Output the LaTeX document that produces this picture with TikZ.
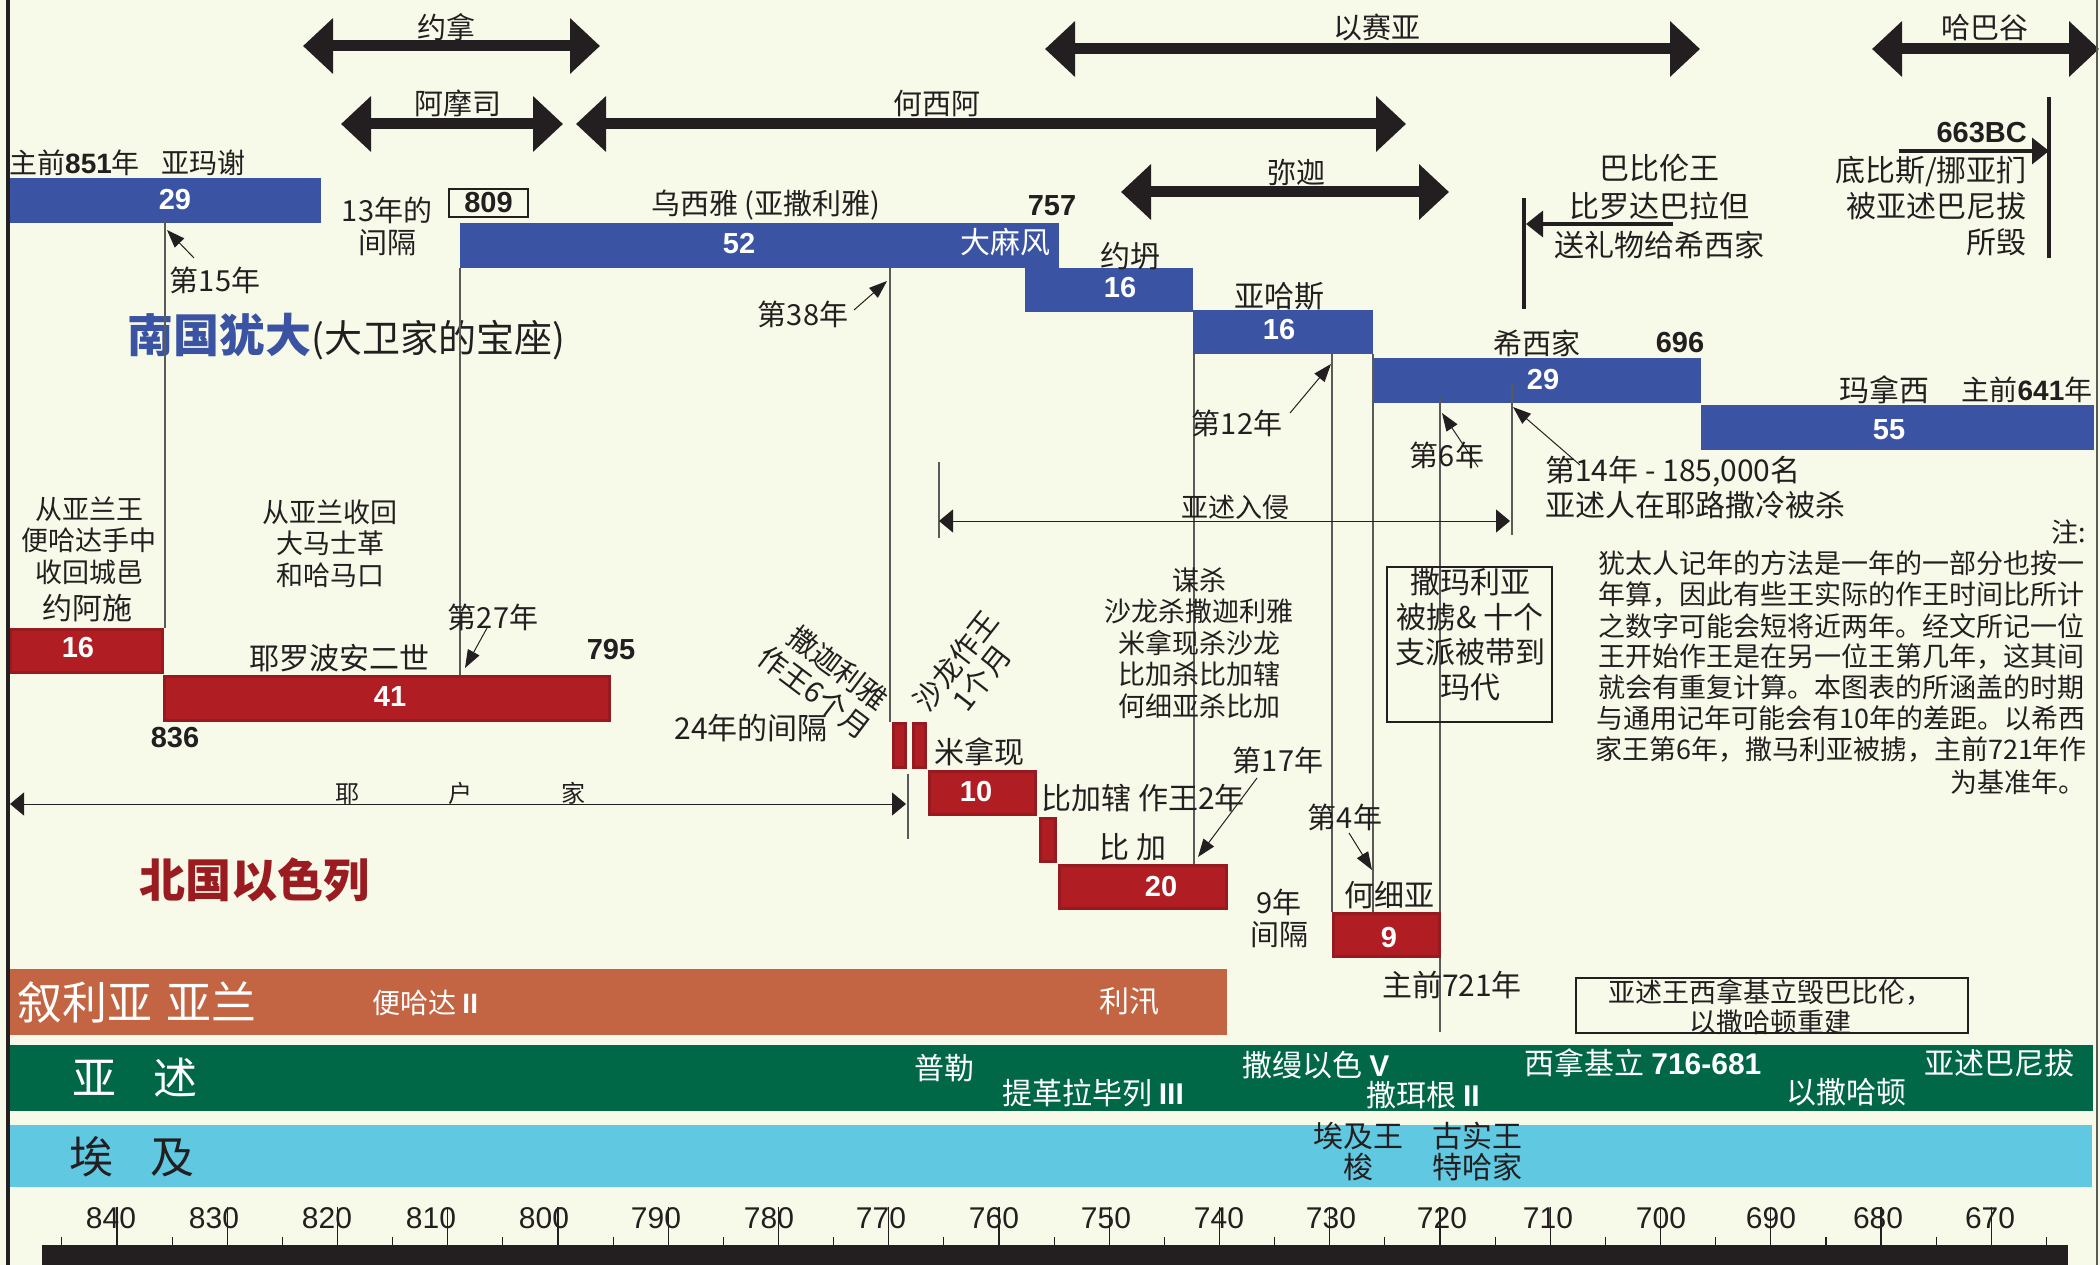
\documentclass[tikz,border=0pt]{standalone}
\usepackage{fontspec}
\setmainfont{Liberation Sans}
\newfontfamily\cjk{Noto Sans CJK SC}
\usetikzlibrary{arrows.meta}
\definecolor{bgc}{HTML}{F8FAE9}
\definecolor{ink}{HTML}{231F20}
\definecolor{judah}{HTML}{3A53A3}
\definecolor{israel}{HTML}{B01E24}
\definecolor{israeldk}{HTML}{961A1F}
\definecolor{israelT}{HTML}{9A1B20}
\definecolor{syria}{HTML}{C36442}
\definecolor{assyria}{HTML}{006846}
\definecolor{egypt}{HTML}{60C9E1}
\definecolor{lgray}{HTML}{5A5A5A}
\newcommand\setfs[2]{\fontsize{#1pt}{#2pt}\selectfont}
\newcommand\bnr[1]{{\rmfamily\bfseries #1}}
\begin{document}
\begin{tikzpicture}[x=1pt,y=-1pt,
 lbl/.style={font={\cjk\setfs{29}{32}}, text=ink, inner sep=0pt, align=center},
 wl/.style={lbl, text=white},
 bnum/.style={font={\rmfamily\bfseries\setfs{29}{32}}, text=white, inner sep=0pt},
 ynum/.style={font={\rmfamily\bfseries\setfs{29}{32}}, text=ink, inner sep=0pt},
 barbox/.style 2 args={minimum width=#1pt, minimum height=#2pt, anchor=north west, inner sep=0pt, outer sep=0pt},
 jbar/.style={fill=judah},
 ibar/.style={fill=israel, draw=israeldk, line width=3pt},
 vline/.style={draw=lgray, line width=1.3pt},
 ptr/.style={draw=ink, line width=1pt, -{Triangle[length=18pt,width=13pt]}},
 big/.style={draw=ink, line width=11pt, {Triangle[length=30pt,width=54pt]}-{Triangle[length=30pt,width=54pt]}},
 thinarr/.style={draw=ink, line width=1pt, {Triangle[length=14pt,width=23pt]}-{Triangle[length=14pt,width=23pt]}},
 heavy/.style={draw=ink, line width=3.5pt},
 heavyarr/.style={heavy, -{Triangle[length=17pt,width=26pt]}},
 ticklbl/.style={font={\rmfamily\setfs{30}{32}}, text=ink, inner sep=0pt},
]
\useasboundingbox (0,0) rectangle (2100,1265);
\fill[bgc] (0,0) rectangle (2100,1265);

% ---------- prophets ----------
\coordinate (jonL) at (303,46);  \coordinate (jonR) at (600,46);
\coordinate (amoL) at (341,124); \coordinate (amoR) at (563,124);
\coordinate (hosL) at (576,124); \coordinate (hosR) at (1406,124);
\coordinate (isaL) at (1045,49); \coordinate (isaR) at (1700,49);
\coordinate (habL) at (1872,49); \coordinate (habR) at (2099,49);
\coordinate (micL) at (1121,192); \coordinate (micR) at (1449,192);
\draw[big] (jonL) -- (jonR);
\draw[big] (amoL) -- (amoR);
\draw[big] (hosL) -- (hosR);
\draw[big] (isaL) -- (isaR);
\draw[big] (habL) -- (habR);
\draw[big] (micL) -- (micR);
\node[lbl] (jonah) at (446,27) {约拿};
\node[lbl] (amos) at (458,103) {阿摩司};
\node[lbl] (hosea) at (937,103) {何西阿};
\node[lbl] (isaiah) at (1377,27) {以赛亚};
\node[lbl] (habakkuk) at (1985,28) {哈巴谷};
\node[lbl] (micah) at (1296,172) {弥迦};

% ---------- Judah bars ----------
\node[jbar, barbox={312}{45}] (amaziah) at (9,178) {};
\node[jbar, barbox={599}{45}] (uzziah) at (460,223) {};
\node[jbar, barbox={168}{44}] (jotham) at (1025,268) {};
\node[jbar, barbox={180}{44}] (ahaz) at (1193,310) {};
\node[jbar, barbox={328}{45}] (hezekiah) at (1373,358) {};
\node[jbar, barbox={393}{45}] (manasseh) at (1701,405) {};

\node[bnum] (n29a) at (175,200) {29};
\node[bnum] (n52) at (739,244) {52};
\node[wl, font={\cjk\setfs{30}{32}}] (leprosy) at (1005,242) {大麻风};
\node[bnum] (n16a) at (1120,288) {16};
\node[bnum] (n16b) at (1279,330) {16};
\node[bnum] (n29b) at (1543,380) {29};
\node[bnum] (n55) at (1889,430) {55};

\node[lbl, anchor=west, font={\cjk\setfs{28}{32}}] (amazlbl) at (9,163) {主前\bnr{851}年\hspace{22pt}亚玛谢};
\node[lbl] (gap13) at (387,226) {13年的\\间隔};
\node[ynum, draw=ink, line width=1.2pt, minimum width=79pt, minimum height=28pt] (b809) at (488.5,203) {809};
\node[lbl] (uzzlbl) at (766,205) {乌西雅 (亚撒利雅)};
\node[ynum] (y757) at (1052,206) {757};
\node[lbl, font={\cjk\setfs{30}{32}}] (jothlbl) at (1130,256) {约坍};
\node[lbl, font={\cjk\setfs{30}{32}}] (ahazlbl) at (1279,296) {亚哈斯};
\node[lbl] (hezlbl) at (1537,343) {希西家};
\node[ynum] (y696) at (1680,343) {696};
\node[lbl, font={\cjk\setfs{30}{32}}] (manlbl) at (1884,390) {玛拿西};
\node[lbl, font={\cjk\setfs{28}{32}}] (y641) at (2027,390) {主前\bnr{641}年};

\node[lbl, anchor=west, font={\cjk\setfs{38}{40}}] (judahtitle) at (127,337) {{\color{judah}\setfs{46}{48}\bfseries 南国犹大}(大卫家的宝座)};

% ---------- Babylon / Thebes ----------
\coordinate (babTop) at (1524,198); \coordinate (babBot) at (1524,309);
\draw[heavy] (babTop) -- (babBot);
\coordinate (babS) at (1673,224); \coordinate (babT) at (1526,224);
\draw[heavyarr] (babS) -- (babT);
\node[lbl, font={\cjk\setfs{30}{38.5}}] (babtxt) at (1659,206.5) {巴比伦王\\比罗达巴拉但\\送礼物给希西家};
\coordinate (thbTop) at (2049,97); \coordinate (thbBot) at (2049,258);
\draw[heavy] (thbTop) -- (thbBot);
\coordinate (thbS) at (1899,151); \coordinate (thbT) at (2049,151);
\draw[heavyarr] (thbS) -- (thbT);
\node[ynum, anchor=east] (y663) at (2027,133) {663BC};
\node[lbl, align=right, anchor=east, font={\cjk\setfs{30}{36}}] (thbtxt) at (2027,206) {底比斯/挪亚扪\\被亚述巴尼拔\\所毁};

% ---------- vertical guide lines ----------
\coordinate (v1a) at (165,220);  \coordinate (v1b) at (165,628);
\coordinate (v2a) at (460,268);  \coordinate (v2b) at (460,675);
\coordinate (v3a) at (890,268);  \coordinate (v3b) at (890,722);
\coordinate (v4a) at (1194,354); \coordinate (v4b) at (1194,864);
\coordinate (v5a) at (1332,354); \coordinate (v5b) at (1332,912);
\coordinate (v6a) at (1373,354); \coordinate (v6b) at (1373,916);
\coordinate (v7a) at (1440,398); \coordinate (v7b) at (1440,1032);
\coordinate (v8a) at (1512,383); \coordinate (v8b) at (1512,535);
\coordinate (v9a) at (908,774);  \coordinate (v9b) at (908,839);
\coordinate (v10a) at (939,462); \coordinate (v10b) at (939,538);
\foreach \a/\b in {v1a/v1b,v2a/v2b,v3a/v3b,v4a/v4b,v5a/v5b,v6a/v6b,v7a/v7b,v8a/v8b,v9a/v9b,v10a/v10b}
  \draw[vline] (\a) -- (\b);

% ---------- pointer arrows ----------
\coordinate (p15s) at (194,258);  \coordinate (p15t) at (167,230);
\coordinate (p27s) at (487,628);  \coordinate (p27t) at (465,668);
\coordinate (p38s) at (854,310);  \coordinate (p38t) at (887,281);
\coordinate (p12s) at (1290,413); \coordinate (p12t) at (1331,364);
\coordinate (p6s) at (1478,467);  \coordinate (p6t) at (1442,413);
\coordinate (p14s) at (1580,465); \coordinate (p14t) at (1513,407);
\coordinate (p17s) at (1257,778); \coordinate (p17t) at (1198,857);
\coordinate (p4s) at (1349,833);  \coordinate (p4t) at (1372,870);
\foreach \a/\b in {p15s/p15t,p27s/p27t,p38s/p38t,p12s/p12t,p6s/p6t,p14s/p14t,p17s/p17t,p4s/p4t}
  \draw[ptr] (\a) -- (\b);
\node[lbl] (t15) at (215,280) {第15年};
\node[lbl] (t27) at (493,617) {第27年};
\node[lbl] (t38) at (803,314) {第38年};
\node[lbl] (t12) at (1237,423) {第12年};
\node[lbl] (t6) at (1447,455) {第6年};
\node[lbl] (t17) at (1278,760) {第17年};
\node[lbl] (t4) at (1345,817) {第4年};
\node[lbl, align=left, anchor=west, font={\cjk\setfs{30}{35}}] (t14) at (1545,487.5) {第14年 - 185,000名\\亚述人在耶路撒冷被杀};

% ---------- invasion arrows ----------
\coordinate (invL) at (939,521); \coordinate (invR) at (1510,521);
\draw[thinarr] (invL) -- (invR);
\node[lbl, font={\cjk\setfs{27}{30}}] (invlbl) at (1235,507) {亚述入侵};
\coordinate (jehuL) at (10,804); \coordinate (jehuR) at (906,804);
\draw[thinarr] (jehuL) -- (jehuR);
\node[lbl, font={\cjk\setfs{24}{26}}] (jehulbl) at (460,793) {耶\hspace{89pt}户\hspace{89pt}家};

% ---------- Israel bars ----------
\node[ibar, barbox={152}{43}] (jehoash) at (10.5,629.5) {};
\node[ibar, barbox={445}{44}] (jeroboam) at (164.5,676.5) {};
\node[ibar, barbox={12}{44}] (zechariah) at (893.5,723.5) {};
\node[ibar, barbox={12}{44}] (shallum) at (913.5,723.5) {};
\node[ibar, barbox={106}{43}] (menahem) at (929.5,771.5) {};
\node[ibar, barbox={15}{43}] (pekahiah) at (1040.5,818.5) {};
\node[ibar, barbox={167}{43}] (pekah) at (1059.5,865.5) {};
\node[ibar, barbox={106}{43}] (hoshea) at (1333.5,913.5) {};

\node[bnum] (n16c) at (78,648) {16};
\node[bnum] (n41) at (390,697) {41};
\node[bnum] (n10) at (976,792) {10};
\node[bnum] (n20) at (1161,887) {20};
\node[bnum] (n9) at (1389,938) {9};

\node[lbl, font={\cjk\setfs{27}{31.5}}] (aram1) at (89,540.5) {从亚兰王\\便哈达手中\\收回城邑};
\node[lbl, font={\cjk\setfs{30}{32}}] (joashlbl) at (87,608) {约阿施};
\node[lbl, font={\cjk\setfs{27}{31.5}}] (aram2) at (330,543.5) {从亚兰收回\\大马士革\\和哈马口};
\node[lbl, font={\cjk\setfs{30}{32}}] (jerlbl) at (339,658) {耶罗波安二世};
\node[ynum] (y795) at (611,650) {795};
\node[ynum] (y836) at (175,738) {836};
\node[lbl, font={\cjk\setfs{30}{32}}] (gap24) at (751,728) {24年的间隔};
\node[lbl, rotate=-37] (zech1) at (838,668) {撒迦利雅};
\node[lbl, rotate=-37] (zech2) at (815,692) {作王6个月};
\node[lbl, rotate=52] (shal1) at (956,661) {沙龙作王};
\node[lbl, rotate=52] (shal2) at (982,678) {1个月};
\node[lbl, font={\cjk\setfs{30}{32}}] (menlbl) at (979,752) {米拿现};
\node[lbl, font={\cjk\setfs{30}{32}}] (pkhlbl) at (1143,798) {比加辖 作王2年};
\node[lbl, font={\cjk\setfs{30}{32}}] (pklbl) at (1133,847) {比 加};
\node[lbl, font={\cjk\setfs{30}{32}}] (hoslbl) at (1389,895) {何细亚};
\node[lbl] (gap9) at (1279,918) {9年\\间隔};
\node[lbl, font={\cjk\setfs{30}{32}}] (y721) at (1452,985) {主前721年};
\node[lbl, font={\cjk\setfs{27}{31.5}}] (murder) at (1199,643) {谋杀\\沙龙杀撒迦利雅\\米拿现杀沙龙\\比加杀比加辖\\何细亚杀比加};

\node[draw=ink, line width=1.2pt, minimum width=165pt, minimum height=155pt, inner sep=0pt] (samariabox) at (1469.5,644.5) {};
\node[lbl, font={\cjk\setfs{30}{35}}] (samaria) at (1470,634.5) {撒玛利亚\\被掳\& 十个\\支派被带到\\玛代};

\node[lbl, font={\cjk\bfseries\setfs{46}{48}}, text=israelT, anchor=west] (israeltitle) at (139,880) {北国以色列};

% ---------- note ----------
\node[lbl, anchor=east, font={\cjk\setfs{27}{30}}] (note0) at (2086,532) {注:};
\foreach \yy/\tx [count=\i] in {563/犹太人记年的方法是一年的一部分也按一,
  595/{年算，因此有些王实际的作王时间比所计},
  626/之数字可能会短将近两年。经文所记一位,
  657/{王开始作王是在另一位王第几年，这其间},
  687/就会有重复计算。本图表的所涵盖的时期,
  718/与通用记年可能会有10年的差距。以希西,
  750/{家王第6年，撒马利亚被掳，主前721年作}}
  \node[lbl, font={\cjk\setfs{27}{30}}] (note\i) at (1841,\yy) {\tx};
\node[lbl, anchor=east, font={\cjk\setfs{27}{30}}] (note8) at (2086,782) {为基准年。};

% ---------- nation bands ----------
\node[fill=syria, barbox={1217}{66}] (syr) at (10,969) {};
\node[fill=assyria, barbox={2083}{66}] (asy) at (10,1045) {};
\node[fill=egypt, barbox={2082}{62}] (egy) at (10,1125) {};

\node[wl, anchor=west, font={\cjk\setfs{45}{48}}] (syrlbl) at (17,1003) {叙利亚\hspace{14pt}亚兰};
\node[wl, anchor=west, font={\cjk\setfs{28}{32}}] (benhadad) at (372,1003) {便哈达 \bnr{II}};
\node[wl, font={\cjk\setfs{30}{32}}] (rezin) at (1129,1001) {利汛};

\node[wl, font={\cjk\setfs{44}{48}}] (asylbl) at (135,1078) {亚\hspace{37pt}述};
\node[wl, font={\cjk\setfs{30}{32}}] (pul) at (944,1068) {普勒};
\node[wl, font={\cjk\setfs{30}{32}}] (tiglath) at (1093,1093) {提革拉毕列 \bnr{III}};
\node[wl, font={\cjk\setfs{30}{32}}] (shalm) at (1316,1065) {撒缦以色 \bnr{V}};
\node[wl, font={\cjk\setfs{30}{32}}] (sargon) at (1423,1095) {撒珥根 \bnr{II}};
\node[wl, font={\cjk\setfs{30}{32}}] (senn) at (1643,1063) {西拿基立 \bnr{716-681}};
\node[wl, font={\cjk\setfs{30}{32}}] (esar) at (1846,1092) {以撒哈顿};
\node[wl, font={\cjk\setfs{30}{32}}] (ashur) at (1999,1063) {亚述巴尼拔};

\node[lbl, font={\cjk\setfs{44}{48}}] (egylbl) at (132,1157) {埃\hspace{37pt}及};
\node[lbl, font={\cjk\setfs{30}{31}}] (so) at (1358,1152) {埃及王\\梭};
\node[lbl, font={\cjk\setfs{30}{31}}] (tirhakah) at (1477,1152) {古实王\\特哈家};

\node[draw=ink, line width=1.2pt, minimum width=392pt, minimum height=55pt, inner sep=0pt] (babbox) at (1772,1005.5) {};
\node[lbl, font={\cjk\setfs{27}{30}}] (babboxtxt) at (1770,1007) {亚述王西拿基立毁巴比伦，\\以撒哈顿重建};

% ---------- time axis ----------
\fill[ink] (42,1245) rectangle (2068,1265);
\foreach \yr in {840,830,...,670} {
  \pgfmathsetmacro\xx{117+(840-\yr)*11.025}
  \draw[ink, line width=1.2pt] (\xx,1207) -- (\xx,1245);
}
\foreach \yr in {845,835,...,665} {
  \pgfmathsetmacro\xx{117+(840-\yr)*11.025}
  \draw[ink, line width=1.2pt] (\xx,1237) -- (\xx,1245);
}
\foreach \xx/\yr in {111/840,214/830,327/820,431/810,544/800,656/790,769/780,881/770,994/760,1106/750,1219/740,1331/730,1442/720,1548/710,1661/700,1771/690,1878/680,1990/670}
  \node[ticklbl] (tl\yr) at (\xx,1218) {\yr};

% ---------- borders ----------
\draw[ink, line width=3.5pt] (8,0) -- (8,1265);
\draw[lgray, line width=1.5pt] (2097,0) -- (2097,1265);
\end{tikzpicture}
\end{document}
